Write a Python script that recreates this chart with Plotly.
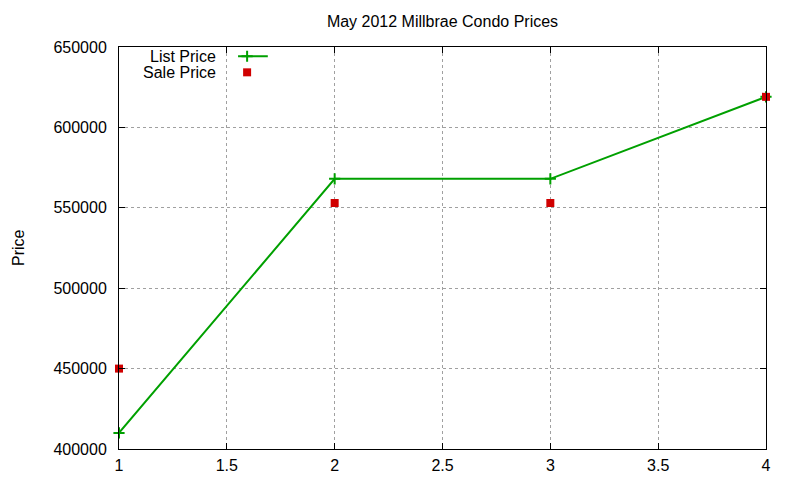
import plotly.graph_objects as go

x_vals = [1, 2, 3, 4]
list_price = [410000, 568000, 568000, 619000]
sale_price = [450000, 553000, 553000, 619000]
x_ticks = [1, 1.5, 2, 2.5, 3, 3.5, 4]
x_tick_labels = ["1", "1.5", "2", "2.5", "3", "3.5", "4"]
y_ticks = [400000, 450000, 500000, 550000, 600000, 650000]
y_tick_labels = ["400000", "450000", "500000", "550000", "600000", "650000"]

GREEN = "#00a000"
RED = "#d00000"
FONT = "Liberation Sans, Arial, sans-serif"
FS = 16

fig = go.Figure()
fig.add_trace(go.Scatter(
    x=x_vals, y=list_price, mode="lines+markers", name="List Price",
    line=dict(color=GREEN, width=2),
    marker=dict(symbol="cross-thin", size=8, line=dict(color=GREEN, width=2)),
    showlegend=False, cliponaxis=False,
))
fig.add_trace(go.Scatter(
    x=x_vals, y=sale_price, mode="markers", name="Sale Price",
    marker=dict(symbol="square", size=8, color=RED),
    showlegend=False, cliponaxis=False,
))

# custom gnuplot-style legend (key) on an overlay axis in 0-1 coordinates
fig.add_trace(go.Scatter(
    x=[0.184, 0.230], y=[0.977, 0.977], xaxis="x2", yaxis="y2", mode="lines",
    line=dict(color=GREEN, width=2), showlegend=False, hoverinfo="skip",
))
fig.add_trace(go.Scatter(
    x=[0.198], y=[0.977], xaxis="x2", yaxis="y2", mode="markers",
    marker=dict(symbol="cross-thin", size=8, line=dict(color=GREEN, width=2)),
    showlegend=False, hoverinfo="skip",
))
fig.add_trace(go.Scatter(
    x=[0.198], y=[0.937], xaxis="x2", yaxis="y2", mode="markers",
    marker=dict(symbol="square", size=8, color=RED),
    showlegend=False, hoverinfo="skip",
))

axis_common = dict(
    showline=True, linecolor="black", linewidth=1, mirror="ticks",
    ticks="inside", ticklen=6, tickcolor="black", tickwidth=1,
    showgrid=True, gridcolor="#a0a0a0", griddash="dot", gridwidth=1,
    zeroline=False, tickfont=dict(family=FONT, size=FS, color="black"),
)

OFF = 7  # page offset of the figure inside the window

fig.update_layout(
    width=800, height=480,
    margin=dict(l=118 - OFF, r=35 + OFF, t=46 - OFF, b=32 + OFF),
    paper_bgcolor="white", plot_bgcolor="white",
    title=dict(text="May 2012 Millbrae Condo Prices", x=(441.5 - OFF) / 800, xanchor="center",
               y=1 - (20 - OFF) / 480, yanchor="middle",
               font=dict(family=FONT, size=FS, color="black")),
    xaxis=dict(range=[1, 4], tickvals=x_ticks, ticktext=x_tick_labels,
               ticklabelstandoff=2, **axis_common),
    yaxis=dict(range=[400000, 650000], tickvals=y_ticks, ticktext=y_tick_labels,
               ticklabelstandoff=8, **axis_common),
    xaxis2=dict(overlaying="x", range=[0, 1], visible=False, fixedrange=True),
    yaxis2=dict(overlaying="y", range=[0, 1], visible=False, fixedrange=True),
    annotations=[
        dict(text="List Price", xref="x2", yref="y2", x=0.153, y=0.977,
             xanchor="right", yanchor="middle", showarrow=False,
             font=dict(family=FONT, size=FS, color="black")),
        dict(text="Sale Price", xref="x2", yref="y2", x=0.153, y=0.937,
             xanchor="right", yanchor="middle", showarrow=False,
             font=dict(family=FONT, size=FS, color="black")),
        dict(text="Price", xref="paper", yref="paper", x=(17 - 118) / 647, y=0.5,
             xanchor="center", yanchor="middle", textangle=-90, showarrow=False,
             font=dict(family=FONT, size=FS, color="black")),
    ],
)

fig.write_html("out.html")
